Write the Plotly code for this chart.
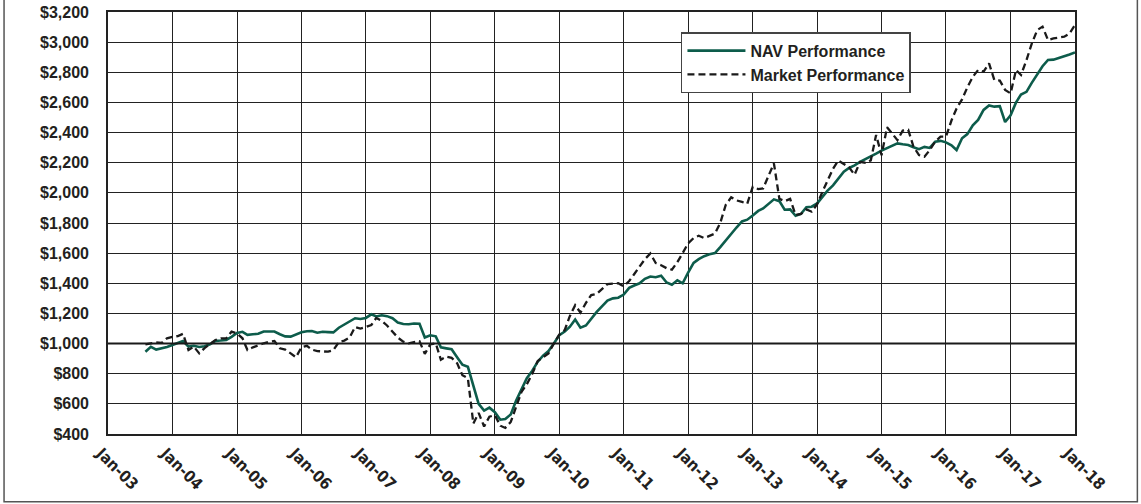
import pandas as pd
import plotly.graph_objects as go

# ---- data (monthly, Aug-2003 .. Jan-2018) ----
start_month = "2003-08-01"
end_month = "2018-01-01"
dates = pd.date_range(start_month, end_month, freq="MS")

nav_values = [
    946, 979, 960, 968, 978,
    990, 1005, 1017, 980, 985, 977, 982, 995, 1018, 1020, 1024, 1045,
    1070, 1078, 1058, 1062, 1065, 1080, 1082, 1080, 1062, 1048, 1046, 1060,
    1075, 1082, 1083, 1072, 1078, 1076, 1074, 1105, 1125, 1145, 1168, 1163,
    1170, 1194, 1180, 1188, 1182, 1168, 1140, 1130, 1128, 1133, 1132, 1040,
    1055, 1048, 975, 968, 962, 910, 860, 846, 720, 600, 555, 575,
    545, 495, 500, 530, 620, 700, 770, 820, 880, 920, 950, 1000,
    1055, 1080, 1110, 1160, 1105, 1120, 1165, 1210, 1248, 1285, 1300, 1304,
    1325, 1370, 1385, 1400, 1430, 1445, 1440, 1450, 1405, 1390, 1420, 1400,
    1470, 1535, 1560, 1580, 1592, 1600, 1640, 1685, 1725, 1770, 1810, 1822,
    1850, 1880, 1897, 1925, 1957, 1945, 1888, 1890, 1848, 1860, 1905, 1908,
    1930, 1975, 2015, 2050, 2095, 2140, 2165, 2182, 2205, 2222, 2245, 2260,
    2280, 2296, 2315, 2328, 2322, 2318, 2303, 2290, 2305, 2298, 2340, 2345,
    2335, 2315, 2284, 2362, 2390, 2448, 2484, 2550, 2580, 2572, 2575, 2470,
    2515, 2600, 2652, 2670, 2730, 2790, 2840, 2882, 2884, 2895, 2905, 2918,
    2932,
]

market_values = [
    995, 1000, 1008, 1005, 1035,
    1045, 1050, 1065, 957, 980, 935, 970, 1000, 1024, 1035, 1035, 1079,
    1068, 1035, 957, 975, 990, 1002, 1012, 1017, 969, 960, 935, 909,
    975, 985, 960, 950, 948, 946, 957, 1010, 1020, 1040, 1110, 1100,
    1110, 1123, 1170, 1150, 1120, 1082, 1040, 1013, 1002, 1010, 1015, 932,
    995, 1002, 893, 913, 905, 870, 790, 770, 470, 540, 450, 515,
    525, 455, 440, 480, 580, 680, 730, 800, 885, 910, 935, 1000,
    1060, 1090, 1180, 1255, 1205, 1270, 1322, 1330, 1360, 1395, 1398, 1400,
    1380, 1415, 1460, 1510, 1560, 1598, 1535, 1520, 1500, 1490, 1540, 1600,
    1665, 1700, 1715, 1700, 1715, 1730, 1800, 1920, 1970, 1950, 1940, 1928,
    2040, 2025, 2030, 2120, 2196, 1960, 1945, 1960, 1853, 1860, 1890, 1875,
    1925, 2010, 2080, 2160, 2215, 2195, 2170, 2120, 2205, 2200, 2215, 2384,
    2250, 2435, 2395, 2350, 2413, 2418, 2306, 2251, 2240, 2284, 2340, 2373,
    2373, 2480, 2560, 2620, 2700, 2770, 2815, 2804, 2859, 2749, 2745, 2683,
    2660, 2815, 2782, 2880, 2990, 3080, 3103, 3014, 3025, 3030, 3036, 3058,
    3114,
]

tick_dates = pd.date_range("2003-01-01", "2018-01-01", freq="YS")
tick_labels = ["Jan-03", "Jan-04", "Jan-05", "Jan-06", "Jan-07", "Jan-08", "Jan-09",
               "Jan-10", "Jan-11", "Jan-12", "Jan-13", "Jan-14", "Jan-15", "Jan-16",
               "Jan-17", "Jan-18"]
y_min, y_max, y_step = 400, 3200, 200
baseline = 1000

NAV_COLOR = "#0d5c4b"
GRID = "#222222"
TEXT = "#231f20"

fig = go.Figure()
fig.add_trace(go.Scatter(
    x=dates, y=nav_values, name="NAV Performance", mode="lines",
    line=dict(color=NAV_COLOR, width=2.6),
))
fig.add_trace(go.Scatter(
    x=dates, y=market_values, name="Market Performance", mode="lines",
    line=dict(color="#1a1a1a", width=2.3, dash="7px,4px"),
))

# baseline at $1,000 (thicker)
fig.add_shape(type="line", xref="paper", x0=0, x1=1, yref="y", y0=baseline, y1=baseline,
              line=dict(color="#1a1a1a", width=2), layer="above")
# outer frame
fig.add_shape(type="rect", xref="paper", yref="paper",
              x0=-0.1075, x1=1.0645, y0=-0.1605, y1=1.04,
              line=dict(color="#555555", width=1.5), layer="below")

fig.update_layout(
    width=1141, height=504,
    margin=dict(l=108, r=66, t=12, b=70, autoexpand=False),
    paper_bgcolor="white", plot_bgcolor="white",
    showlegend=True,
    legend=dict(
        x=0.5925, y=0.952, xanchor="left", yanchor="top",
        bgcolor="white", bordercolor="#444444", borderwidth=1.5,
        font=dict(family="Liberation Sans, Arial, sans-serif", size=16, color=TEXT, weight="bold"),
        itemwidth=58, tracegroupgap=0,
    ),
    font=dict(family="Liberation Sans, Arial, sans-serif", color=TEXT),
)

fig.update_xaxes(
    range=[tick_dates[0], tick_dates[-1]],
    tickmode="array", tickvals=tick_dates, ticktext=tick_labels,
    tickangle=45, automargin=False, ticklabelshift=-7, ticklabelstandoff=2,
    tickfont=dict(family="DejaVu Sans Condensed, Liberation Sans Narrow, sans-serif",
                  size=16, color=TEXT, weight="bold"),
    showgrid=True, gridcolor=GRID, gridwidth=1.3,
    showline=True, linecolor=GRID, linewidth=1.6, mirror=True,
    ticks="", zeroline=False,
)
fig.update_yaxes(
    range=[y_min, y_max], dtick=y_step, tick0=y_min,
    tickprefix="$", tickformat=",d", automargin=False,
    tickfont=dict(family="Liberation Sans, Arial, sans-serif", size=16, color=TEXT, weight="bold"),
    showgrid=True, gridcolor=GRID, gridwidth=1.3,
    showline=True, linecolor=GRID, linewidth=1.6, mirror=True,
    ticks="", ticklabelstandoff=14, zeroline=False,
)

fig.write_html("out.html", config={"displayModeBar": False},
               post_script="document.body.style.margin='0';document.body.style.overflow='hidden';")
